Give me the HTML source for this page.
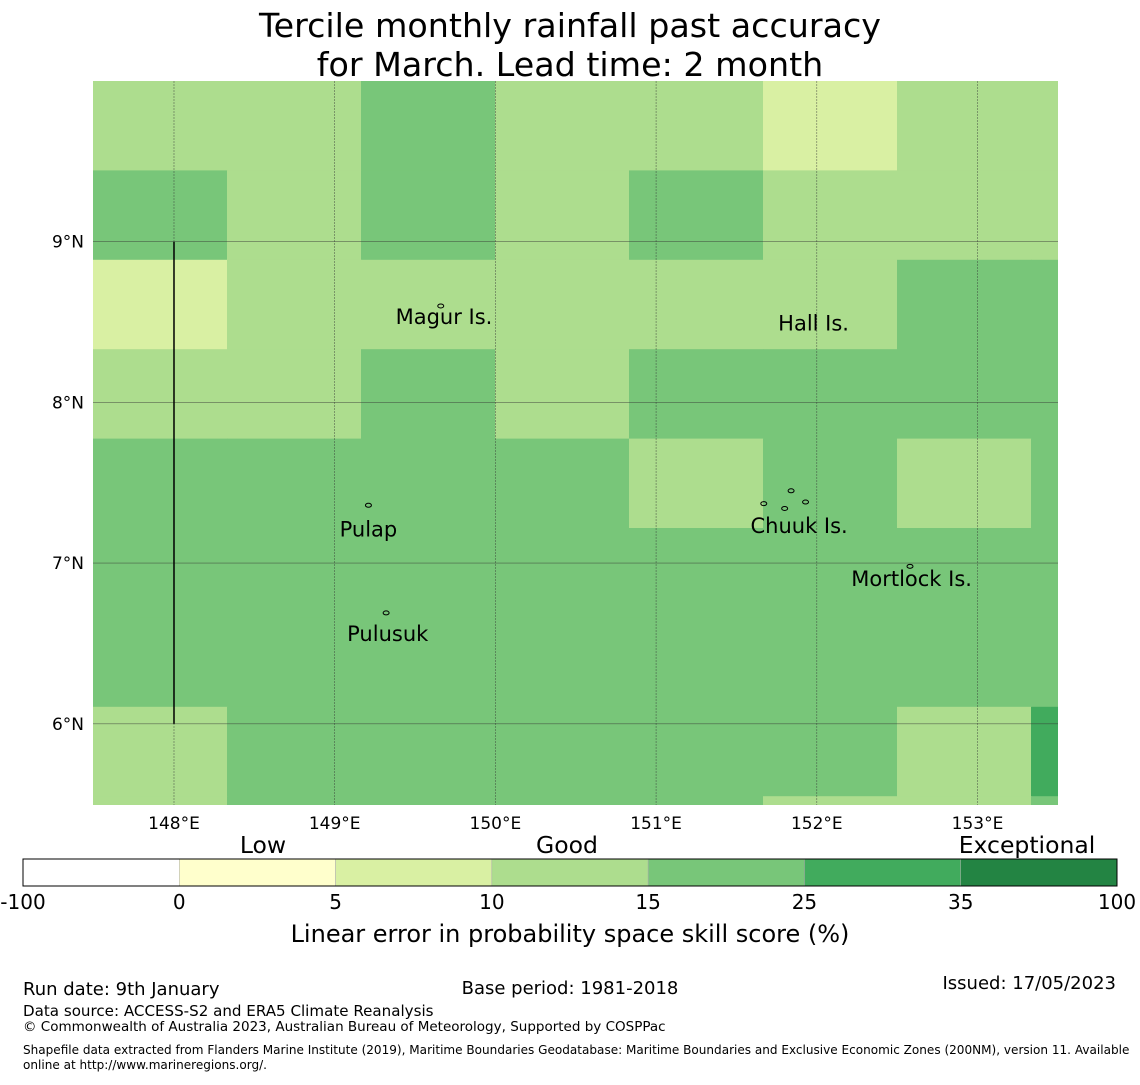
<!DOCTYPE html>
<html><head><meta charset="utf-8"><style>
body{margin:0;background:#fff;width:1140px;height:1080px;overflow:hidden;font-family:"Liberation Sans","DejaVu Sans",sans-serif}
svg text{font-family:"DejaVu Sans","Liberation Sans",sans-serif}
</style></head><body>
<svg id="chart" width="1140" height="1080" xmlns="http://www.w3.org/2000/svg">
<text x="570" y="37" text-anchor="middle" font-size="33.3">Tercile monthly rainfall past accuracy</text>
<text x="570" y="76" text-anchor="middle" font-size="33.3">for March. Lead time: 2 month</text>
<g id="map"></g>
<g id="cbar"></g>
<text x="570" y="942" text-anchor="middle" font-size="24">Linear error in probability space skill score (%)</text>
<text x="23" y="995" font-size="18">Run date: 9th January</text>
<text x="570" y="994" text-anchor="middle" font-size="18">Base period: 1981-2018</text>
<text x="1116" y="989" text-anchor="end" font-size="18">Issued: 17/05/2023</text>
<text x="23" y="1016" font-size="15.1">Data source: ACCESS-S2 and ERA5 Climate Reanalysis</text>
<text x="23" y="1031" font-size="13.5">© Commonwealth of Australia 2023, Australian Bureau of Meteorology, Supported by COSPPac</text>
<text x="23" y="1054" font-size="12.05">Shapefile data extracted from Flanders Marine Institute (2019), Maritime Boundaries Geodatabase: Maritime Boundaries and Exclusive Economic Zones (200NM), version 11. Available</text>
<text x="23" y="1069" font-size="12.05">online at http://www.marineregions.org/.</text>
</svg>
<script>
const NS="http://www.w3.org/2000/svg";
// data
const skillGrid=[
[12,12,20,12,12,7,12,12],
[20,12,20,12,20,12,12,12],
[7,12,12,12,12,12,20,20],
[12,12,20,12,20,20,20,20],
[20,20,20,20,12,20,12,20],
[20,20,20,20,20,20,20,20],
[20,20,20,20,20,20,20,20],
[12,20,20,20,20,20,12,30],
[12,20,20,20,20,12,12,20]];
const cbBounds=[-100,0,5,10,15,25,35,100];
const cbColors=["#ffffff","#ffffcc","#d9f0a3","#addd8e","#78c679","#41ab5d","#238443"];
const lonTicks=[148,149,150,151,152,153];
const latTicks=[9,8,7,6];
const places=[["Magur Is.",149.68,8.53],["Hall Is.",151.98,8.49],["Pulap",149.21,7.21],["Chuuk Is.",151.89,7.23],["Mortlock Is.",152.59,6.90],["Pulusuk",149.33,6.56]];
// axes
const X0=93,X1=1058,Y0=81,Y1=805;
const lon0=147.496,pxDeg=160.7,lat0=10.0;
const xs=l=>X0+(l-lon0)*pxDeg, ys=a=>Y0+(lat0-a)*pxDeg;
const cellW=134,cellH=89.4;
function color(v){for(let i=0;i<cbColors.length;i++){if(v<cbBounds[i+1])return cbColors[i];}return cbColors[cbColors.length-1];}
function mk(t,a,p){const e=document.createElementNS(NS,t);for(const k in a)e.setAttribute(k,a[k]);p.appendChild(e);return e;}
const map=document.getElementById('map');
const cp=mk('clipPath',{id:'mc'},map);mk('rect',{x:X0,y:Y0,width:X1-X0,height:Y1-Y0},cp);
const cg=mk('g',{'clip-path':'url(#mc)'},map);
skillGrid.forEach((row,r)=>row.forEach((v,c)=>{
 const e=mk('rect',{x:X0+c*cellW,y:Y0+r*cellH,width:cellW+0.5,height:cellH+0.5,fill:color(v)},cg);
 
 
}));
lonTicks.forEach(l=>{const x=xs(l);
 const g=mk('line',{x1:x,x2:x,y1:Y0,y2:Y1,stroke:'#333','stroke-width':0.6,'stroke-dasharray':'2,1','stroke-opacity':0.7},map);
 
 
 const t=mk('text',{x:x,y:829,'text-anchor':'middle','font-size':17},map);t.textContent=l+'°E';
 
 
});
latTicks.forEach(a=>{const y=ys(a);
 const g=mk('line',{x1:X0,x2:X1,y1:y,y2:y,stroke:'#333','stroke-width':0.6,'stroke-opacity':0.7},map);
 
 
 const t=mk('text',{x:84,y:y+6,'text-anchor':'end','font-size':17},map);t.textContent=a+'°N';
 
 
});
const bl=mk('line',{x1:xs(148),x2:xs(148),y1:ys(9),y2:ys(6),stroke:'#000','stroke-width':1.5},map);


places.forEach(p=>{const t=mk('text',{x:xs(p[1]),y:ys(p[2])+7,'text-anchor':'middle','font-size':21},map);t.textContent=p[0];
 
 
});
[[149.21,7.36],[149.32,6.69],[149.66,8.6],[151.84,7.45],[151.67,7.37],[151.8,7.34],[151.93,7.38],[152.58,6.98]].forEach(p=>{
 const e=mk('ellipse',{cx:xs(p[0]),cy:ys(p[1]),rx:3,ry:2,fill:'none',stroke:'#000','stroke-width':1},map);
 
 
});
// colorbar
const cb=document.getElementById('cbar');const CX0=23,CX1=1117,CY=859,CH=27,sw=(CX1-CX0)/cbColors.length;
cbColors.forEach((c,i)=>{const e=mk('rect',{x:CX0+i*sw,y:CY,width:sw,height:CH,fill:c,stroke:'#aaa','stroke-width':0.5},cb);
 
 });
mk('rect',{x:CX0,y:CY,width:CX1-CX0,height:CH,fill:'none',stroke:'#000','stroke-width':1},cb);
cbBounds.forEach((b,i)=>{const t=mk('text',{x:CX0+i*sw,y:909,'text-anchor':'middle','font-size':20},cb);t.textContent=b;
 
 });
[["Low",263],["Good",567],["Exceptional",1027]].forEach(l=>{const t=mk('text',{x:l[1],y:853,'text-anchor':'middle','font-size':23.5},cb);t.textContent=l[0];
 
 });
</script>
</body></html>
